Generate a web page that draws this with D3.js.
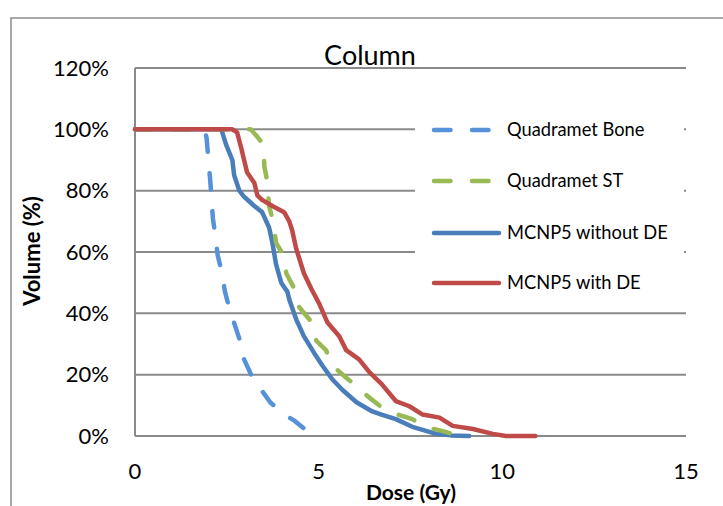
<!DOCTYPE html>
<html><head><meta charset="utf-8">
<script src="https://cdn.jsdelivr.net/npm/d3@7"></script>
<style>body{margin:0;background:#fff}svg{display:block}text{font-family:Lato,"Liberation Sans",Arial,sans-serif;fill:#000}</style>
</head><body><svg id="c" width="723" height="506"></svg>
<script>
const title = "Column";
const xLabel = "Dose (Gy)";
const yLabel = "Volume (%)";
const xTicks = [0, 5, 10, 15];
const yTicks = [0, 20, 40, 60, 80, 100, 120];
const seriesNames = ["Quadramet Bone", "Quadramet ST", "MCNP5 without DE", "MCNP5 with DE"];
const boneData = [[0,100],[1.9,100],[1.95,97],[2.0,90],[2.05,83],[2.08,78],[2.12,71],[2.18,66],[2.25,59],[2.35,54],[2.45,47],[2.56,42],[2.75,35],[2.86,31],[2.97,25],[3.16,20],[3.44,15],[3.68,11],[4.06,7],[4.34,5],[4.75,1],[5.1,0]];
const stData = [[0,100],[3.15,100],[3.3,98],[3.5,95],[3.52,88],[3.6,83],[3.65,75],[3.76,70],[3.84,63],[4.04,59],[4.12,53],[4.34,48],[4.47,42],[4.75,38],[4.94,31],[5.2,28],[5.37,23],[5.75,19],[6.05,16],[6.33,13],[6.7,9.5],[7.15,7],[7.55,5.5],[7.9,3],[8.4,1.5],[8.7,0.5],[8.9,0]];
const noDeData = [[0,100],[2.35,100],[2.48,95],[2.65,90],[2.7,85],[2.84,80],[2.97,78],[3.25,75],[3.46,73],[3.65,68],[3.74,63],[3.84,56],[3.98,50],[4.15,47],[4.2,44.5],[4.39,38],[4.6,32.5],[4.88,27],[5.1,23],[5.37,18.5],[5.65,15],[6.03,11],[6.46,8],[6.71,7],[7.1,5.5],[7.55,3],[8.2,0.7],[8.6,0.2],[9.1,0]];
const withDeData = [[0,100],[2.65,100],[2.78,99],[2.89,94],[2.97,90],[3.05,86],[3.25,82.5],[3.33,78.5],[3.46,77],[3.74,75],[4.06,73],[4.2,70],[4.28,67],[4.39,61],[4.6,53],[4.8,48],[5.02,43],[5.24,37],[5.56,32.5],[5.75,28],[6.1,25],[6.38,20.8],[6.71,17],[7.1,11.4],[7.47,9.7],[7.83,7],[8.29,6],[8.65,3.3],[9.2,2.3],[9.74,0.7],[10.1,0],[10.9,0]];

const colors = ["#5592DA", "#98B954", "#4A7EBB", "#BE4B48"];
const dashed = [true, true, false, false];
const allData = [boneData, stData, noDeData, withDeData];
const drawOrder = [0, 2, 1, 3];

const svg = d3.select("#c");
const x = d3.scaleLinear().domain([0, 15]).range([135, 686]);
const y = d3.scaleLinear().domain([0, 120]).range([436, 68]);

// outer border
svg.append("rect").attr("x", 11).attr("y", 18).attr("width", 730).attr("height", 500)
  .attr("fill", "none").attr("stroke", "#8c8c8c").attr("stroke-width", 1.5);

// gridlines
svg.append("g").selectAll("line").data(yTicks).join("line")
  .attr("x1", x(0)).attr("x2", x(15)).attr("y1", d => y(d)).attr("y2", d => y(d))
  .attr("stroke", "#8a8a8a").attr("stroke-width", 2);
// y axis line
svg.append("line").attr("x1", x(0)).attr("x2", x(0)).attr("y1", y(0)).attr("y2", y(120))
  .attr("stroke", "#8a8a8a").attr("stroke-width", 2);

// y tick labels
svg.append("g").selectAll("text").data(yTicks).join("text")
  .attr("x", 109).attr("y", d => y(d)).attr("dy", "0.35em").attr("text-anchor", "end")
  .attr("font-size", "22px").text(d => d + "%");
// x tick labels
svg.append("g").selectAll("text").data(xTicks).join("text")
  .attr("x", d => x(d)).attr("y", 479).attr("text-anchor", "middle")
  .attr("font-size", "22px").text(d => d);

// title & axis labels
svg.append("text").attr("x", 370).attr("y", 65).attr("text-anchor", "middle")
  .attr("font-size", "27px").text(title);
svg.append("text").attr("x", 411).attr("y", 500).attr("text-anchor", "middle")
  .attr("font-size", "21px").attr("font-weight", "bold").text(xLabel);
svg.append("text").attr("transform", "translate(40,251) rotate(-90)").attr("text-anchor", "middle")
  .attr("font-size", "22px").attr("font-weight", "bold").text(yLabel);

// series
const line = d3.line().x(d => x(d[0])).y(d => y(d[1]));
drawOrder.forEach(i => {
  svg.append("path").datum(allData[i]).attr("d", line)
    .attr("fill", "none").attr("stroke", colors[i]).attr("stroke-width", 4.5)
    .attr("stroke-linecap", "round").attr("stroke-linejoin", "round")
    .attr("stroke-dasharray", dashed[i] ? "16.5 21.5" : null);
});

// legend
const lg = svg.append("g");
lg.append("rect").attr("x", 415).attr("y", 106).attr("width", 269).attr("height", 196).attr("fill", "#fff");
const rows = [130, 181, 233, 283];
seriesNames.forEach((name, i) => {
  lg.append("line").attr("x1", 434).attr("x2", dashed[i] ? 491 : 499)
    .attr("y1", rows[i]).attr("y2", rows[i])
    .attr("stroke", colors[i]).attr("stroke-width", 4.5).attr("stroke-linecap", "round")
    .attr("stroke-dasharray", dashed[i] ? "16.5 21.5" : null);
  lg.append("text").attr("x", 507).attr("y", rows[i]).attr("dy", "0.35em")
    .attr("font-size", "18.3px").text(name);
});
</script></body></html>
